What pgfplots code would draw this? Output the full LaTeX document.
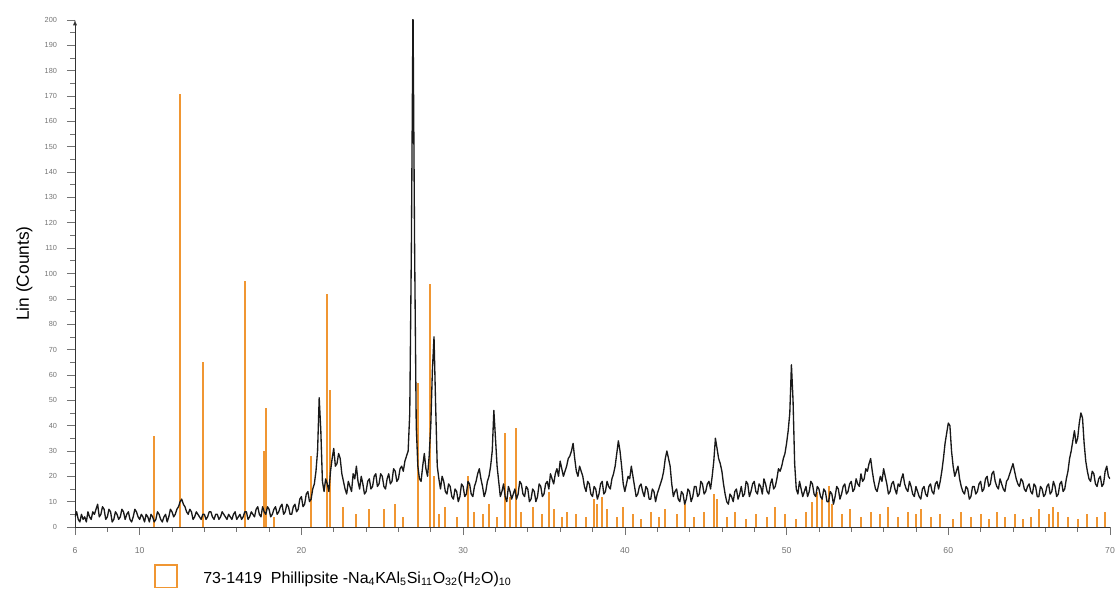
\documentclass[border=0pt]{standalone}
\usepackage{pgfplots}
\pgfplotsset{compat=1.18}
\usepackage{fontspec}
\setmainfont{Liberation Sans}
\definecolor{stick}{RGB}{240,150,50}
\definecolor{xrdline}{RGB}{25,25,25}
\begin{document}
\begin{tikzpicture}
\begin{axis}[
  name=ax, at={(0,0)}, anchor=south west,
  scale only axis, width=776.25pt, height=380.25pt,
  xmin=6, xmax=70, ymin=0, ymax=200,
  axis x line=bottom, axis y line=left,
  x axis line style={-, black!80},
  y axis line style={-latex, black!80},
  xtick={6,10,20,30,40,50,60,70},
  minor xtick={8,12,14,16,18,22,24,26,28,32,34,36,38,42,44,46,48,52,54,56,58,62,64,66,68},
  ytick={0,10,...,200},
  minor ytick={5,15,...,195},
  tick align=outside,
  major tick length=6pt, minor tick length=3.5pt,
  tick style={black!55, line width=0.5pt},
  /pgf/number format/assume math mode=true,
  xticklabel style={font=\fontsize{6.5}{7}\selectfont, text=black!55, yshift=-6pt},
  yticklabel style={font=\fontsize{5.5}{6}\selectfont, text=black!55, xshift=-4pt},
  ylabel={Lin (Counts)},
  every axis y label/.style={at={(axis description cs:-0.049,0.50)}, anchor=center, rotate=90, font=\fontsize{13}{15}\selectfont},
]
% reference stick pattern 73-1419 Phillipsite
\addplot[ycomb, draw=stick, line width=1.5pt, mark=none] coordinates {
(10.86,36) (12.47,171) (13.9,65) (16.5,97) (17.7,30) (17.8,47) (18.3,4)
(20.6,28) (21.6,92) (21.75,54) (22.6,8) (23.4,5) (24.2,7) (25.1,7) (25.8,9) (26.3,4)
(27.2,57) (27.96,96) (28.2,20) (28.5,5) (28.9,8) (29.6,4) (30.3,20) (30.7,6) (31.2,5) (31.6,9) (32.1,4)
(32.6,37) (32.9,12) (33.3,39) (33.6,6) (34.3,8) (34.9,5) (35.3,14) (35.6,7) (36.1,4) (36.4,6) (37.0,5) (37.6,4)
(38.1,11) (38.3,9) (38.6,12) (38.9,7) (39.5,4) (39.9,8) (40.5,5) (41.0,3) (41.6,6) (42.1,4) (42.5,7)
(43.2,5) (43.7,9) (44.3,4) (44.9,6) (45.5,13) (45.7,11) (46.3,4) (46.8,6) (47.5,3) (48.1,5) (48.8,4)
(49.3,8) (49.9,5) (50.6,3) (51.2,6) (51.6,10) (51.9,14) (52.2,12) (52.6,16) (52.8,9) (53.4,5) (53.9,7)
(54.6,4) (55.2,6) (55.8,5) (56.3,8) (56.9,4) (57.5,6) (58.0,5) (58.3,7) (58.9,4) (59.5,5) (60.3,3)
(60.8,6) (61.4,4) (62.0,5) (62.5,3) (63.0,6) (63.5,4) (64.1,5) (64.6,3) (65.1,4) (65.6,7) (66.2,5)
(66.5,8) (66.8,6) (67.4,4) (68.0,3) (68.6,5) (69.2,4) (69.7,6)
};
% measured pattern
\addplot[xrdline, line width=1.0pt, line join=round, mark=none] coordinates {
(6.0,4) (6.1,6) (6.2,3) (6.3,2) (6.4,5) (6.5,3) (6.6,4) (6.7,2) (6.8,6) (6.9,4)
(7.0,3) (7.1,6) (7.2,5) (7.3,7) (7.4,9) (7.5,4) (7.6,5) (7.7,8) (7.8,7) (7.9,3)
(8.0,4) (8.1,7) (8.2,6) (8.3,2) (8.4,3) (8.5,6) (8.6,5) (8.7,3) (8.8,4) (8.9,7)
(9.0,6) (9.1,3) (9.2,5) (9.3,6) (9.4,3) (9.5,2) (9.6,4) (9.7,7) (9.8,6) (9.9,4)
(10.0,3) (10.1,5) (10.2,4) (10.3,2) (10.4,5) (10.5,4) (10.6,2) (10.7,5) (10.8,4) (10.9,2)
(11.0,3) (11.1,6) (11.2,5) (11.3,3) (11.4,2) (11.5,4) (11.6,5) (11.7,2) (11.8,4) (11.9,7)
(12.0,6) (12.1,4) (12.2,5) (12.3,7) (12.4,8) (12.5,10) (12.6,11) (12.7,9) (12.8,8) (12.9,6)
(13.0,5) (13.1,7) (13.2,6) (13.3,3) (13.4,4) (13.5,6) (13.6,5) (13.7,4) (13.8,3) (13.9,5)
(14.0,5) (14.1,3) (14.2,4) (14.3,6) (14.4,6) (14.5,4) (14.6,3) (14.7,5) (14.8,5) (14.9,3)
(15.0,4) (15.1,6) (15.2,5) (15.3,4) (15.4,3) (15.5,5) (15.6,4) (15.7,3) (15.8,5) (15.9,6)
(16.0,3) (16.1,4) (16.2,5) (16.3,3) (16.4,4) (16.5,6) (16.6,6) (16.7,3) (16.8,4) (16.9,6)
(17.0,5) (17.1,4) (17.2,7) (17.3,8) (17.4,5) (17.5,4) (17.6,8) (17.7,6) (17.8,5) (17.9,8)
(18.0,7) (18.1,4) (18.2,5) (18.3,7) (18.4,8) (18.5,5) (18.6,6) (18.7,8) (18.8,9) (18.9,5)
(19.0,6) (19.1,9) (19.2,8) (19.3,5) (19.4,5) (19.5,8) (19.6,9) (19.7,6) (19.8,7) (19.9,11)
(20.0,12) (20.1,8) (20.2,9) (20.3,13) (20.4,14) (20.5,10) (20.6,11) (20.7,15) (20.8,17) (20.9,22)
(21.0,30) (21.1,51) (21.2,38) (21.3,18) (21.4,14) (21.5,19) (21.6,17) (21.7,14) (21.8,22) (21.9,27)
(22.0,31) (22.1,24) (22.2,25) (22.3,29) (22.4,27) (22.5,21) (22.6,18) (22.7,15) (22.8,13) (22.9,18)
(23.0,16) (23.1,14) (23.2,21) (23.3,19) (23.4,24) (23.5,18) (23.6,15) (23.7,20) (23.8,17) (23.9,13)
(24.0,14) (24.1,18) (24.2,19) (24.3,15) (24.4,16) (24.5,20) (24.6,21) (24.7,16) (24.8,17) (24.9,21)
(25.0,20) (25.1,16) (25.2,15) (25.3,19) (25.4,21) (25.5,17) (25.6,18) (25.7,23) (25.8,22) (25.9,18)
(26.0,19) (26.1,23) (26.2,24) (26.3,22) (26.4,26) (26.5,28) (26.6,30) (26.7,45) (26.8,110) (26.9,205)
(27.0,110) (27.1,40) (27.2,24) (27.3,19) (27.4,18) (27.5,24) (27.6,29) (27.7,23) (27.8,20) (27.9,28)
(28.0,40) (28.1,62) (28.2,75) (28.3,48) (28.4,24) (28.5,19) (28.6,15) (28.7,20) (28.8,18) (28.9,14)
(29.0,13) (29.1,17) (29.2,16) (29.3,12) (29.4,11) (29.5,15) (29.6,14) (29.7,10) (29.8,12) (29.9,17)
(30.0,16) (30.1,12) (30.2,13) (30.3,18) (30.4,17) (30.5,13) (30.6,12) (30.7,16) (30.8,18) (30.9,21)
(31.0,23) (31.1,19) (31.2,16) (31.3,12) (31.4,14) (31.5,18) (31.6,20) (31.7,24) (31.8,30) (31.9,46)
(32.0,35) (32.1,24) (32.2,18) (32.3,12) (32.4,14) (32.5,17) (32.6,12) (32.7,10) (32.8,16) (32.9,14)
(33.0,11) (33.1,13) (33.2,15) (33.3,11) (33.4,13) (33.5,18) (33.6,17) (33.7,13) (33.8,12) (33.9,16)
(34.0,15) (34.1,10) (34.2,11) (34.3,15) (34.4,14) (34.5,10) (34.6,12) (34.7,17) (34.8,16) (34.9,12)
(35.0,13) (35.1,17) (35.2,18) (35.3,15) (35.4,21) (35.5,19) (35.6,17) (35.7,21) (35.8,23) (35.9,20)
(36.0,26) (36.1,23) (36.2,20) (36.3,22) (36.4,24) (36.5,27) (36.6,28) (36.7,30) (36.8,33) (36.9,27)
(37.0,22) (37.1,20) (37.2,24) (37.3,22) (37.4,20) (37.5,16) (37.6,14) (37.7,18) (37.8,17) (37.9,13)
(38.0,12) (38.1,16) (38.2,15) (38.3,11) (38.4,13) (38.5,17) (38.6,18) (38.7,13) (38.8,14) (38.9,18)
(39.0,16) (39.1,15) (39.2,19) (39.3,21) (39.4,24) (39.5,29) (39.6,34) (39.7,30) (39.8,24) (39.9,17)
(40.0,14) (40.1,17) (40.2,20) (40.3,19) (40.4,24) (40.5,20) (40.6,16) (40.7,12) (40.8,13) (40.9,16)
(41.0,17) (41.1,14) (41.2,12) (41.3,16) (41.4,15) (41.5,11) (41.6,11) (41.7,15) (41.8,14) (41.9,10)
(42.0,13) (42.1,15) (42.2,17) (42.3,19) (42.4,22) (42.5,27) (42.6,30) (42.7,27) (42.8,24) (42.9,17)
(43.0,12) (43.1,14) (43.2,15) (43.3,11) (43.4,10) (43.5,14) (43.6,13) (43.7,9) (43.8,11) (43.9,15)
(44.0,14) (44.1,10) (44.2,12) (44.3,16) (44.4,16) (44.5,12) (44.6,13) (44.7,18) (44.8,17) (44.9,13)
(45.0,14) (45.1,17) (45.2,18) (45.3,15) (45.4,20) (45.5,26) (45.6,35) (45.7,31) (45.8,27) (45.9,25)
(46.0,22) (46.1,17) (46.2,13) (46.3,10) (46.4,9) (46.5,13) (46.6,12) (46.7,10) (46.8,14) (46.9,15)
(47.0,11) (47.1,13) (47.2,16) (47.3,12) (47.4,13) (47.5,18) (47.6,17) (47.7,12) (47.8,14) (47.9,17)
(48.0,18) (48.1,14) (48.2,13) (48.3,17) (48.4,16) (48.5,13) (48.6,19) (48.7,17) (48.8,14) (48.9,13)
(49.0,17) (49.1,19) (49.2,15) (49.3,16) (49.4,19) (49.5,23) (49.6,22) (49.7,24) (49.8,27) (49.9,29)
(50.0,33) (50.1,38) (50.2,45) (50.3,64) (50.4,50) (50.5,25) (50.6,15) (50.7,13) (50.8,18) (50.9,15)
(51.0,12) (51.1,14) (51.2,16) (51.3,12) (51.4,14) (51.5,18) (51.6,17) (51.7,13) (51.8,12) (51.9,16)
(52.0,15) (52.1,12) (52.2,11) (52.3,15) (52.4,14) (52.5,10) (52.6,10) (52.7,14) (52.8,13) (52.9,9)
(53.0,12) (53.1,16) (53.2,15) (53.3,11) (53.4,13) (53.5,16) (53.6,17) (53.7,13) (53.8,14) (53.9,17)
(54.0,18) (54.1,14) (54.2,15) (54.3,19) (54.4,17) (54.5,16) (54.6,21) (54.7,18) (54.8,19) (54.9,23)
(55.0,22) (55.1,25) (55.2,27) (55.3,22) (55.4,18) (55.5,15) (55.6,14) (55.7,17) (55.8,20) (55.9,18)
(56.0,23) (56.1,20) (56.2,17) (56.3,13) (56.4,14) (56.5,17) (56.6,18) (56.7,15) (56.8,13) (56.9,17)
(57.0,16) (57.1,19) (57.2,21) (57.3,17) (57.4,15) (57.5,14) (57.6,18) (57.7,16) (57.8,13) (57.9,12)
(58.0,16) (58.1,14) (58.2,12) (58.3,11) (58.4,15) (58.5,16) (58.6,13) (58.7,12) (58.8,16) (58.9,17)
(59.0,14) (59.1,13) (59.2,17) (59.3,18) (59.4,15) (59.5,18) (59.6,22) (59.7,27) (59.8,33) (59.9,37)
(60.0,41) (60.1,40) (60.2,30) (60.3,24) (60.4,20) (60.5,22) (60.6,24) (60.7,19) (60.8,16) (60.9,14)
(61.0,13) (61.1,16) (61.2,15) (61.3,11) (61.4,12) (61.5,16) (61.6,16) (61.7,13) (61.8,14) (61.9,17)
(62.0,18) (62.1,14) (62.2,15) (62.3,19) (62.4,20) (62.5,16) (62.6,17) (62.7,21) (62.8,22) (62.9,18)
(63.0,16) (63.1,15) (63.2,19) (63.3,17) (63.4,15) (63.5,14) (63.6,18) (63.7,19) (63.8,21) (63.9,23)
(64.0,25) (64.1,22) (64.2,19) (64.3,17) (64.4,16) (64.5,19) (64.6,18) (64.7,15) (64.8,14) (64.9,16)
(65.0,17) (65.1,14) (65.2,13) (65.3,17) (65.4,16) (65.5,12) (65.6,12) (65.7,16) (65.8,15) (65.9,12)
(66.0,13) (66.1,16) (66.2,17) (66.3,13) (66.4,14) (66.5,18) (66.6,16) (66.7,12) (66.8,13) (66.9,17)
(67.0,18) (67.1,14) (67.2,15) (67.3,19) (67.4,22) (67.5,27) (67.6,30) (67.7,34) (67.8,38) (67.9,33)
(68.0,35) (68.1,41) (68.2,45) (68.3,43) (68.4,33) (68.5,26) (68.6,22) (68.7,19) (68.8,18) (68.9,22)
(69.0,21) (69.1,17) (69.2,16) (69.3,19) (69.4,20) (69.5,16) (69.6,17) (69.7,22) (69.8,24) (69.9,20)
(70.0,19)
};
\end{axis}
% legend
\draw[stick, line width=1.2pt, fill=white] (60pt,-45.5pt) rectangle (76.5pt,-28.5pt);
\node[anchor=base west, inner sep=0pt, font=\fontsize{12}{14}\selectfont] at (96pt,-42pt)
  {73-1419 \ Phillipsite -Na\textsubscript{4}KAl\textsubscript{5}Si\textsubscript{11}O\textsubscript{32}(H\textsubscript{2}O)\textsubscript{10}};
\pgfresetboundingbox
\path (-56.25pt,-52.5pt) rectangle (780.75pt,395.25pt);
\end{tikzpicture}
\end{document}
